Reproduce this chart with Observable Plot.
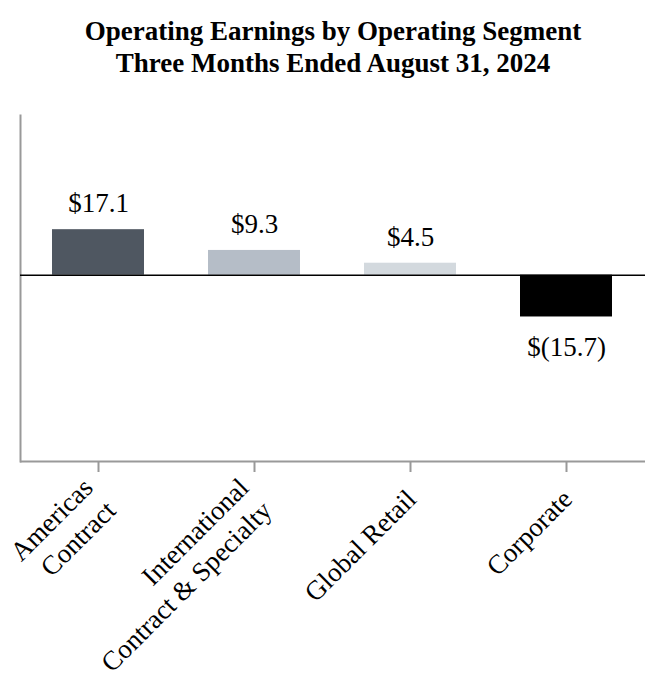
<!DOCTYPE html>
<html>
<head>
<meta charset="utf-8">
<script src="https://cdn.jsdelivr.net/npm/d3@7"></script>
<script src="https://cdn.jsdelivr.net/npm/@observablehq/plot@0.6"></script>
<style>
  html, body { margin: 0; padding: 0; background: #fff; }
  body { width: 666px; height: 700px; overflow: hidden; font-family: "Liberation Serif", "Times New Roman", serif; }
  #title { padding-top: 15px; text-align: center; font-weight: bold; font-size: 27px; line-height: 32px; color: #000; height: 65px; }
  #chart svg { display: block; }
</style>
</head>
<body>
<div id="title">Operating Earnings by Operating Segment<br>Three Months Ended August 31, 2024</div>
<div id="chart"></div>
<script>
const categories = ["Americas Contract", "International Contract & Specialty", "Global Retail", "Corporate"];
const tickLabels = ["Americas\nContract", "International\nContract & Specialty", "Global Retail", "Corporate"];
const values = [17.1, 9.3, 4.5, -15.7];
const colors = ["#4f5761", "#b5bdc7", "#d3d9de", "#000000"];
const yDomain = [-70, 60];

const data = categories.map((c, i) => ({category: c, value: values[i], color: colors[i]}));
const fmt = v => v < 0 ? `$(${Math.abs(v).toFixed(1)})` : `$${v.toFixed(1)}`;
const labelOf = new Map(categories.map((c, i) => [c, tickLabels[i]]));

const chart = Plot.plot({
  width: 666,
  height: 620,
  marginTop: 35,
  marginBottom: 239,
  marginLeft: 20,
  marginRight: 21,
  style: {fontFamily: "'Liberation Serif', 'Times New Roman', serif", background: "#fff", color: "#000"},
  x: {domain: categories, paddingInner: 0.41, paddingOuter: 0.205, label: null},
  y: {domain: yDomain, label: null, axis: null},
  marks: [
    Plot.frame({anchor: "left", stroke: "#999", strokeWidth: 2}),
    Plot.ruleY([yDomain[0]], {stroke: "#999", strokeWidth: 2}),
    Plot.barY(data, {x: "category", y: "value", fill: "color"}),
    Plot.ruleY([0], {stroke: "#000", strokeWidth: 1.5}),
    Plot.text(data.filter(d => d.value >= 0), {x: "category", y: "value", text: d => fmt(d.value), dy: -26, fontSize: 27, fill: "#000", lineAnchor: "middle"}),
    Plot.text(data.filter(d => d.value < 0), {x: "category", y: "value", text: d => fmt(d.value), dy: 30, fontSize: 27, fill: "#000", lineAnchor: "middle"}),
    Plot.axisX({
      tickSize: 11,
      stroke: "#999",
      strokeWidth: 2,
      tickRotate: -45,
      tickPadding: 21,
      fontSize: 27,
      lineHeight: 1.2,
      fill: "#000",
      tickFormat: c => labelOf.get(c),
      label: null
    })
  ]
});
document.getElementById("chart").appendChild(chart);
</script>
</body>
</html>
